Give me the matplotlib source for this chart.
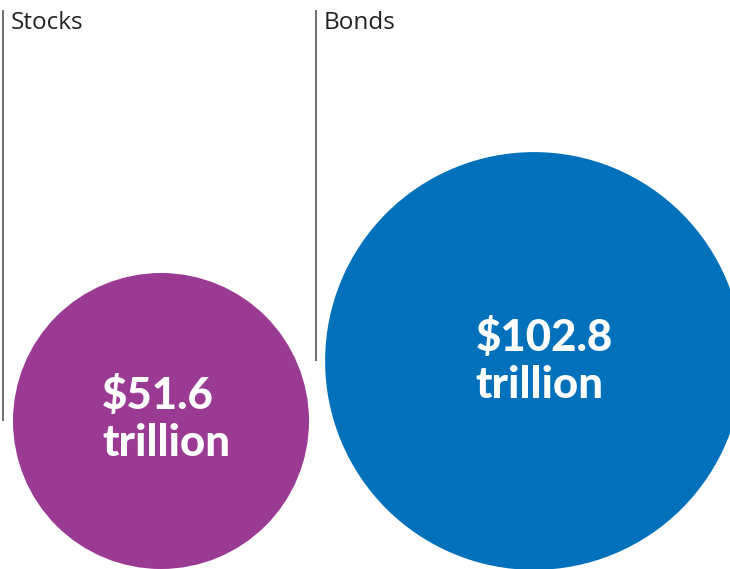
import matplotlib
matplotlib.use("Agg")
import matplotlib.pyplot as plt
from matplotlib.patches import Circle
import numpy as np

categories = ["Stocks", "Bonds"]
values = [51.6, 102.8]
value_labels = ["$51.6\ntrillion", "$102.8\ntrillion"]
colors = ["#9B3A93", "#0071BA"]

# layout (pixel space)
centers = [(161, 421), (534, 361)]
text_pos = [(166, 419), (544, 361)]
line_x = [3, 316]
scale = 148 / np.sqrt(51.6)

fig = plt.figure(figsize=(7.3, 5.69), dpi=100)
ax = fig.add_axes([0, 0, 1, 1])
ax.set_xlim(0, 730)
ax.set_ylim(569, 0)
ax.set_aspect("equal")
ax.axis("off")

for cat, v, lab, c, (cx, cy), (tx, ty), lx in zip(categories, values, value_labels, colors,
                                                  centers, text_pos, line_x):
    r = scale * np.sqrt(v)
    ax.add_patch(Circle((cx, cy), r, facecolor=c, edgecolor="none", zorder=1))
    ax.plot([lx, lx], [10, cy], color="#555555", lw=1.2, zorder=2, solid_capstyle="butt")
    ax.text(lx + 8, 23, cat, fontsize=17.5, family=["Open Sans", "DejaVu Sans"],
            color="#222222", ha="left", va="center")
    ax.text(tx, ty, lab, fontsize=31.5, family=["Lato", "DejaVu Sans"], fontweight="black",
            color="white", ha="center", va="center", multialignment="left", linespacing=1.2, zorder=3)

fig.savefig("out.png", dpi=100)
